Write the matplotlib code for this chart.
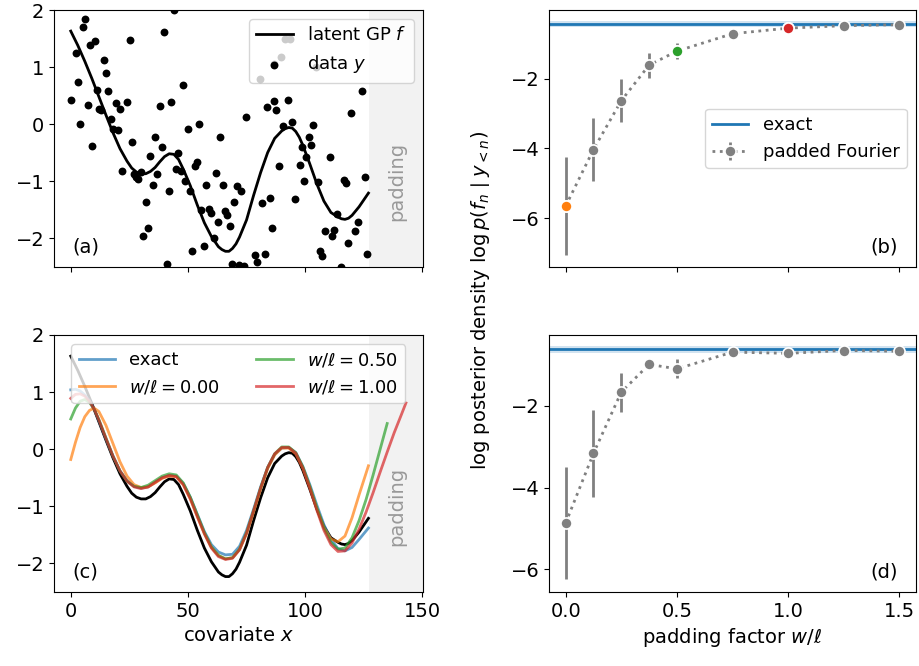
import matplotlib
matplotlib.use("Agg")
import matplotlib.pyplot as plt
import numpy as np

# ---------------- data ----------------
data_x = [0, 2.1, 3.3, 4.1, 5.1, 6.1, 7.2, 8.1, 9.2, 10.2, 11.1, 12.1, 13.0, 14.0, 15.0, 15.9,
          17.2, 18.0, 19.1, 20.1, 21.1, 22.0, 24.1, 25.1, 26.1, 27.1, 27.9, 28.8, 29.9, 30.9,
          31.9, 32.9, 33.9, 34.9, 35.9, 36.9, 37.9, 38.9, 39.9, 40.9, 41.8, 42.8, 44.0, 44.7,
          45.8, 47.0, 47.8, 48.9, 49.9, 50.9, 51.9, 52.9, 53.9, 54.9, 55.7, 56.9, 57.9, 58.9,
          59.9, 60.9, 61.8, 62.8, 63.8, 64.8, 65.8, 66.8, 67.8, 68.8, 69.8, 70.8, 71.8, 72.8,
          73.8, 74.8, 78.6, 79.6, 80.9, 81.7, 82.7, 83.7, 84.8, 85.8, 86.8, 86.8, 87.7, 88.7,
          89.7, 90.6, 91.5, 92.6, 93.6, 94.6, 95.6, 97.6, 98.6, 99.6, 100.4, 101.6, 102.6, 103.5,
          104.5, 105.5, 106.4, 107.4, 108.5, 110.6, 111.5, 112.5, 113.5, 115.5, 116.5, 117.4,
          118.4, 119.4, 121.4, 122.4, 124.4, 125.4, 126.4]
data_y = [0.42, 1.25, 0.73, 0.0, 1.70, 1.85, 0.33, 1.38, -0.39, 1.46, 0.60, 0.27, 0.24, 1.12, 0.90, 0.58,
          0.09, -0.08, 0.37, -0.11, 0.27, -0.83, 0.39, 1.48, -0.32, -0.87, -0.93, -0.97, -0.84, -1.97,
          -1.36, -1.83, -0.56, -1.07, -0.23, -0.87, 0.32, -0.40, 1.61, -2.45, -1.18, 0.38, 2.0, -0.78,
          -0.51, -0.83, 0.69, -0.99, -0.09, -1.18, -2.23, -0.74, -0.67, 0.01, -1.51, -2.14, -1.07, -1.49,
          -1.56, -2.0, -0.85, -1.71, -0.23, -1.07, -1.53, -1.59, -1.79, -2.45, -1.36, -1.08, -2.47, -1.18,
          -2.48, 0.12, -2.29, -2.41, 0.79, -1.39, -2.28, 0.30, -1.29, -1.83, 1.06, 0.40, 0.24, -0.74,
          1.18, -0.04, 1.50, 0.42, 1.50, 0.04, -1.31, -0.71, -0.40, -1.0, -0.57, -0.22, -0.37, -0.02,
          1.0, -1.02, -2.23, -2.31, -1.88, -0.57, -1.97, -1.85, -1.58, -2.5, -0.98, -1.04,
          -2.09, 0.19, -1.88, -1.72, 0.58, -0.93, -2.27]

latent_x = [0, 3, 6, 9, 12, 15, 18, 21, 24, 26, 28, 30, 32, 34, 36, 38, 40, 42, 44, 46, 48,
            51, 54, 57, 60, 63, 64.5, 66, 67.5, 69, 70.5, 72, 75, 78, 81, 84, 87, 90, 91.5, 93,
            94.5, 96, 97.5, 99, 102, 105, 108, 111, 114, 115.5, 117, 118.5, 120, 123, 127]
latent_f = [1.63, 1.38, 1.10, 0.80, 0.48, 0.16, -0.15, -0.43, -0.65, -0.77, -0.84, -0.87, -0.87,
            -0.83, -0.76, -0.66, -0.57, -0.52, -0.53, -0.62, -0.79, -1.08, -1.42, -1.73, -1.97,
            -2.15, -2.20, -2.23, -2.23, -2.18, -2.10, -1.98, -1.68, -1.25, -0.85, -0.50, -0.25,
            -0.12, -0.08, -0.06, -0.07, -0.13, -0.23, -0.37, -0.70, -1.05, -1.35, -1.55, -1.63,
            -1.66, -1.67, -1.65, -1.60, -1.45, -1.21]

mean_x = [0, 2, 4, 6, 8, 10, 12, 15, 18, 21, 24, 27, 30, 33, 36, 39, 42, 45, 48, 51, 54, 57,
          60, 63, 66, 69, 72, 75, 78, 81, 84, 87, 90, 93, 96, 99, 102, 105, 108, 111, 114, 117,
          120, 123, 127]
exact_mean = [1.04, 1.05, 1.02, 0.95, 0.85, 0.70, 0.50, 0.18, -0.12, -0.38, -0.55, -0.65, -0.68,
              -0.66, -0.58, -0.50, -0.46, -0.47, -0.60, -0.84, -1.14, -1.44, -1.67, -1.80, -1.85,
              -1.84, -1.70, -1.42, -1.05, -0.66, -0.32, -0.09, 0.02, 0.03, -0.06, -0.30, -0.62,
              -0.98, -1.32, -1.58, -1.74, -1.78, -1.72, -1.58, -1.38]
pad0_mean = [-0.18, 0.12, 0.38, 0.57, 0.68, 0.72, 0.66, 0.42, 0.10, -0.22, -0.47, -0.62, -0.67,
             -0.66, -0.59, -0.51, -0.47, -0.48, -0.62, -0.87, -1.18, -1.48, -1.72, -1.86, -1.92,
             -1.90, -1.76, -1.48, -1.10, -0.70, -0.34, -0.10, 0.02, 0.02, -0.08, -0.33, -0.67,
             -1.04, -1.37, -1.57, -1.62, -1.52, -1.20, -0.80, -0.29]
pad05_x = mean_x[:-1] + [126, 129, 132, 135]
pad05_mean = [0.53, 0.72, 0.84, 0.87, 0.82, 0.70, 0.52, 0.20, -0.12, -0.38, -0.56, -0.65, -0.67,
              -0.63, -0.55, -0.47, -0.43, -0.45, -0.59, -0.84, -1.15, -1.46, -1.71, -1.86, -1.92,
              -1.90, -1.75, -1.46, -1.08, -0.68, -0.32, -0.08, 0.04, 0.04, -0.06, -0.31, -0.65,
              -1.03, -1.38, -1.63, -1.75, -1.73, -1.55, -1.25, -0.88, -0.45, 0.0, 0.45]
pad1_x = mean_x[:-1] + [126, 129, 132, 135, 138, 141, 143]
pad1_mean = [0.89, 0.96, 0.97, 0.93, 0.84, 0.70, 0.51, 0.19, -0.12, -0.38, -0.56, -0.66, -0.69,
             -0.66, -0.58, -0.50, -0.46, -0.48, -0.62, -0.87, -1.18, -1.48, -1.73, -1.88, -1.93,
             -1.91, -1.76, -1.47, -1.08, -0.68, -0.32, -0.08, 0.03, 0.03, -0.07, -0.33, -0.68,
             -1.07, -1.42, -1.67, -1.79, -1.78, -1.64, -1.40, -1.10, -0.76, -0.40, -0.05, 0.29,
             0.60, 0.81]

padding_start = 127.2

pad_factor = [0.0, 0.125, 0.25, 0.375, 0.5, 0.75, 1.0, 1.25, 1.5]
lp_b = [-5.65, -4.03, -2.63, -1.61, -1.21, -0.71, -0.55, -0.48, -0.45]
lp_b_err = [1.40, 0.89, 0.62, 0.36, 0.23, 0.08, 0.05, 0.04, 0.04]
exact_b = -0.43
lp_d = [-4.87, -3.16, -1.66, -0.98, -1.09, -0.68, -0.71, -0.64, -0.66]
lp_d_err = [1.38, 1.06, 0.48, 0.05, 0.23, 0.04, 0.04, 0.03, 0.03]
exact_d = -0.61
highlight = {0.0: "C1", 0.5: "C2", 1.0: "C3"}

# ---------------- figure ----------------
plt.rcParams["font.size"] = 14
plt.rcParams["legend.fontsize"] = 13
fig = plt.figure(figsize=(9.19, 6.66), dpi=100)
W, H = 919, 666

def ax_at(l, t, r, b):
    return fig.add_axes([l / W, 1 - b / H, (r - l) / W, (b - t) / H])

ax_a = ax_at(54, 10, 422.7, 266.7)
ax_c = ax_at(54, 335, 422.7, 592)
ax_b = ax_at(549, 10, 916, 266.7)
ax_d = ax_at(549, 335, 916, 592)

xlim_left = (-7.15, 150.15)

# (a)
ax_a.axvspan(padding_start, xlim_left[1], color="0.95", lw=0, zorder=0)
ax_a.plot(latent_x, latent_f, color="black", lw=2, label="latent GP $f$")
ax_a.scatter(data_x, data_y, s=32, color="black", lw=0, label="data $y$")
ax_a.set_xlim(*xlim_left)
ax_a.set_ylim(-2.5, 2)
ax_a.set_xticks([0, 50, 100, 150])
ax_a.set_xticklabels([])
ax_a.set_yticks([-2, -1, 0, 1, 2])
ax_a.text(139, -1.0, "padding", rotation=90, color="0.6", ha="center", va="center")
ax_a.text(0.05, 0.04, "(a)", transform=ax_a.transAxes, ha="left", va="bottom")
ax_a.legend(loc="upper right", handlelength=2)

# (c)
ax_c.axvspan(padding_start, xlim_left[1], color="0.95", lw=0, zorder=0)
ax_c.plot(latent_x, latent_f, color="black", lw=2)
ax_c.plot(mean_x, exact_mean, color="C0", lw=2, alpha=0.7, label="exact")
ax_c.plot(mean_x, pad0_mean, color="C1", lw=2, alpha=0.7, label=r"$w/\ell = 0.00$")
ax_c.plot(pad05_x, pad05_mean, color="C2", lw=2, alpha=0.7, label=r"$w/\ell = 0.50$")
ax_c.plot(pad1_x, pad1_mean, color="C3", lw=2, alpha=0.7, label=r"$w/\ell = 1.00$")
ax_c.set_xlim(*xlim_left)
ax_c.set_ylim(-2.5, 2)
ax_c.set_xticks([0, 50, 100, 150])
ax_c.set_yticks([-2, -1, 0, 1, 2])
ax_c.set_xlabel("covariate $x$")
ax_c.text(139, -1.0, "padding", rotation=90, color="0.6", ha="center", va="center")
ax_c.text(0.05, 0.04, "(c)", transform=ax_c.transAxes, ha="left", va="bottom")
ax_c.legend(loc="upper center", ncol=2, columnspacing=2.0, handlelength=2)

# (b), (d)
def right_panel(ax, vals, errs, exact, ylim, label, colored):
    ax.axhline(exact, color="C0", lw=2, label="exact", zorder=1)
    ax.axhspan(exact - 0.09, exact + 0.09, color="C0", alpha=0.2, lw=0, zorder=1)
    ax.errorbar(pad_factor, vals, yerr=errs, fmt="o:", color="gray", ms=8, mec="white",
                mew=1.2, lw=2, elinewidth=2, label="padded Fourier", zorder=2)
    if colored:
        for w, v in zip(pad_factor, vals):
            if w in highlight:
                ax.plot(w, v, "o", color=highlight[w], ms=8, mec="white", mew=1.2, zorder=3)
    ax.set_xlim(-0.075, 1.575)
    ax.set_ylim(*ylim)
    ax.set_xticks([0, 0.5, 1.0, 1.5])
    ax.set_yticks([-6, -4, -2])
    ax.text(0.95, 0.04, label, transform=ax.transAxes, ha="right", va="bottom")

right_panel(ax_b, lp_b, lp_b_err, exact_b, (-7.39, -0.03), "(b)", True)
ax_b.set_xticklabels([])
ax_b.legend(loc="center right")
right_panel(ax_d, lp_d, lp_d_err, exact_d, (-6.56, -0.26), "(d)", False)
ax_d.set_xlabel(r"padding factor $w/\ell$")

fig.text(480 / W, 1 - 300 / H, r"log posterior density $\log p(f_n \mid y_{<n})$",
         rotation=90, ha="center", va="center")

fig.savefig("out.png", dpi=100)
